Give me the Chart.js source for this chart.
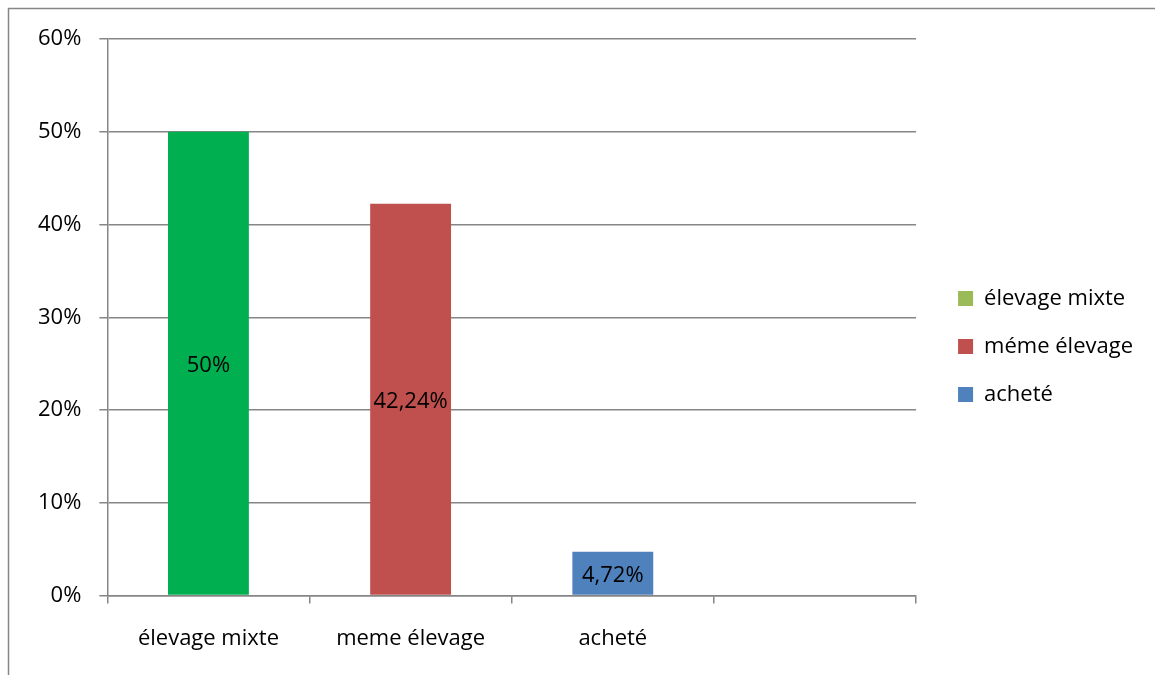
<!DOCTYPE html>
<html>
<head>
<meta charset="utf-8">
<script src="https://cdn.jsdelivr.net/npm/chart.js@4/dist/chart.umd.min.js"></script>
<style>
  body { margin: 0; background: #fff; }
  #wrap { width: 1155px; height: 675px; }
</style>
</head>
<body>
<div id="wrap"><canvas id="chart"></canvas></div>
<script>
// categories, values and legend entries
const categories = ['élevage mixte', 'meme élevage', 'acheté', ''];
const values = [50, 42.24, 4.72, null];
const valueLabels = ['50%', '42,24%', '4,72%', ''];
const barColors = ['#00B050', '#C0504D', '#4F81BD', '#4F81BD'];
const legendNames = ['élevage mixte', 'méme élevage', 'acheté'];
const legendColors = ['#9BBB59', '#C0504D', '#4F81BD'];
const yTicks = [0, 10, 20, 30, 40, 50, 60];

const fontFam = '"Open Sans", sans-serif';
const fontSize = 22;
const gridColor = '#868686';

// outer frame like the spreadsheet chart border
const framePlugin = {
    id: 'frame',
    beforeDraw(chart) {
        const ctx = chart.ctx;
        ctx.save();
        ctx.strokeStyle = '#868686';
        ctx.lineWidth = 1.5;
        ctx.beginPath();
        ctx.moveTo(8.5, 675);
        ctx.lineTo(8.5, 8.5);
        ctx.lineTo(1155, 8.5);
        ctx.stroke();
        ctx.restore();
    }
};

// nudge the legend: gap to plot is wider than row spacing, and it sits a bit higher
const legendShift = {
    id: 'legendShift',
    afterLayout(chart) {
        chart.legend.left += 16;
        chart.legend.right += 16;
        chart.legend.top -= 10;
        chart.legend.bottom -= 10;
    }
};

// value labels in the middle of each bar
const valueLabelPlugin = {
    id: 'valueLabels',
    afterDatasetsDraw(chart) {
        const ctx = chart.ctx;
        const meta = chart.getDatasetMeta(0);
        ctx.save();
        ctx.font = fontSize + 'px ' + fontFam;
        ctx.fillStyle = '#000';
        ctx.textAlign = 'center';
        ctx.textBaseline = 'middle';
        meta.data.forEach((bar, i) => {
            if (values[i] == null) return;
            const y = (bar.y + bar.base) / 2;
            ctx.fillText(valueLabels[i], bar.x, y + 2);
        });
        ctx.restore();
    }
};

const ctx = document.querySelector('#chart').getContext('2d');

const chart = new Chart(ctx, {
    type: 'bar',
    data: {
        labels: categories,
        datasets: [{
            data: values,
            backgroundColor: barColors,
            categoryPercentage: 1,
            barPercentage: 0.4
        }]
    },
    options: {
        responsive: true,
        maintainAspectRatio: false,
        animation: false,
        layout: {
            padding: { left: 20, top: 39, right: 28, bottom: 1 }
        },
        plugins: {
            tooltip: { enabled: false },
            legend: {
                position: 'right',
                labels: {
                    font: { family: fontFam, size: fontSize },
                    color: '#000',
                    boxWidth: 15,
                    boxHeight: 15,
                    padding: 26,
                    generateLabels: () => legendNames.map((n, i) => ({
                        text: n,
                        fillStyle: legendColors[i],
                        strokeStyle: legendColors[i],
                        lineWidth: 0,
                        index: i
                    }))
                }
            }
        },
        scales: {
            x: {
                offset: true,
                grid: {
                    offset: true,
                    drawOnChartArea: false,
                    color: gridColor,
                    tickLength: 8,
                    lineWidth: 1.5
                },
                border: { color: gridColor, width: 1.5 },
                ticks: {
                    font: { family: fontFam, size: fontSize },
                    color: '#000',
                    padding: 22
                }
            },
            y: {
                min: 0,
                max: 60,
                afterBuildTicks: axis => { axis.ticks = yTicks.map(v => ({ value: v })); },
                grid: {
                    color: gridColor,
                    tickLength: 8,
                    lineWidth: 1.5
                },
                border: { color: gridColor, width: 1.5 },
                ticks: {
                    font: { family: fontFam, size: fontSize },
                    color: '#000',
                    padding: 18,
                    callback: v => v + '%'
                }
            }
        }
    },
    plugins: [framePlugin, legendShift, valueLabelPlugin]
});
</script>
</body>
</html>
